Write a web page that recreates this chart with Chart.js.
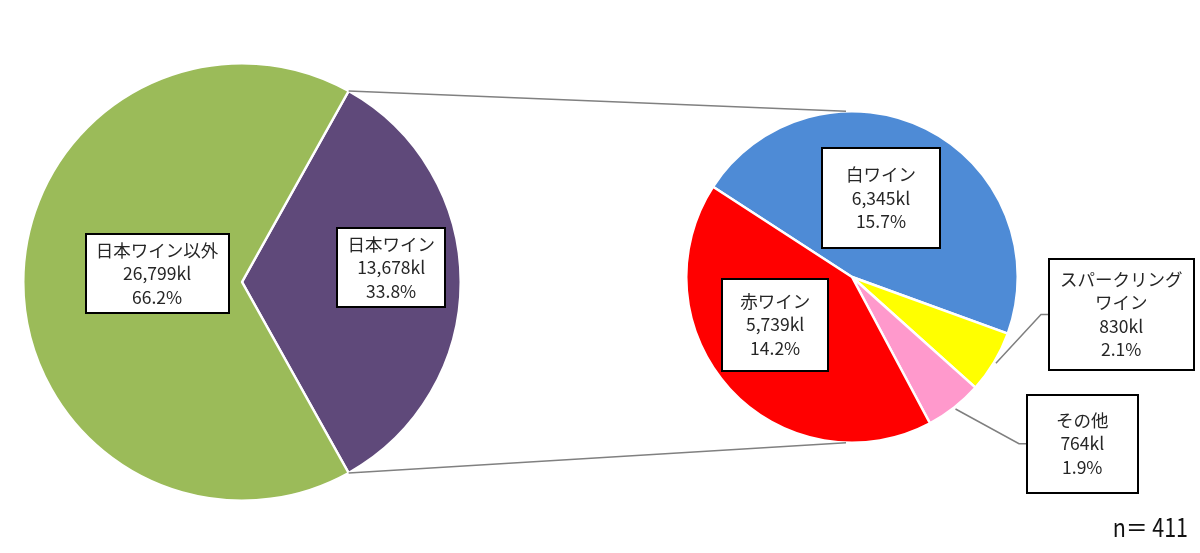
<!DOCTYPE html>
<html lang="ja">
<head>
<meta charset="utf-8">
<script src="https://cdn.jsdelivr.net/npm/chart.js@4.4.1/dist/chart.umd.min.js"></script>
<style>
  html, body { margin: 0; padding: 0; background: #fff; }
  #wrap { position: relative; width: 1200px; height: 553px; }
  #wrap canvas { position: absolute; left: 0; top: 0; }
</style>
</head>
<body>
<div id="wrap">
  <canvas id="chart-total" width="1200" height="553"></canvas>
  <canvas id="chart-detail" width="1200" height="553"></canvas>
</div>
<script>
  // 全体 (kl)
  const totalLabels = ['日本ワイン', '日本ワイン以外'];
  const totalValues = [13678, 26799];
  const totalColors = ['#5F497A', '#9BBB59'];

  // 日本ワインの内訳 (kl)
  const detailLabels = [['白ワイン'], ['スパークリング', 'ワイン'], ['その他'], ['赤ワイン']];
  const detailValues = [6345, 830, 764, 5739];
  const detailColors = ['#4E8BD6', '#FFFF00', '#FF99CC', '#FF0000'];

  const sampleText = 'n＝ 411';

  // ラベル枠の置き場所: 半径比, 中心角からのずれ(度), 枠の幅・高さ
  const totalLabelPos = [
    { dist: 0.685, shift: -5.5, w: 108, h: 79 },
    { dist: 0.39, shift: 5.7, w: 143, h: 79 }
  ];
  const detailLabelPos = [
    { dist: 0.506, shift: -6.3, w: 118, h: 100 },
    { dist: 1.64, shift: -23, w: 145, h: 111, leader: true },
    { dist: 1.715, shift: -16, w: 111, h: 98, leader: true },
    { dist: 0.545, shift: 10.8, w: 106, h: 92 }
  ];

  const grandTotal = totalValues.reduce((s, v) => s + v, 0);
  const fmt = v => v.toLocaleString('en-US') + 'kl';
  const pct = v => (v / grandTotal * 100).toFixed(1) + '%';

  const FONT = '"Noto Sans CJK JP", "Noto Sans", sans-serif';

  /*
    ==================================================
    =================== ラベル描画 ===================
    ==================================================
  */

  function drawBox(ctx, cx, cy, w, h, lines) {
    let left = Math.round(cx - w / 2), top = Math.round(cy - h / 2);
    ctx.fillStyle = '#fff';
    ctx.fillRect(left, top, w, h);
    ctx.strokeStyle = '#000';
    ctx.lineWidth = 2;
    ctx.strokeRect(left, top, w, h);

    ctx.fillStyle = '#262626';
    ctx.font = '17.5px ' + FONT;
    ctx.textAlign = 'center';
    ctx.textBaseline = 'middle';
    let lh = 23.5;
    lines.forEach((t, i) => ctx.fillText(t, cx, cy + (i - (lines.length - 1) / 2) * lh));
  }

  function drawLabels(ctx, meta, pos, textOf) {
    meta.data.forEach((arc, i) => {
      let { x, y, startAngle, endAngle, outerRadius } = arc.getProps(['x', 'y', 'startAngle', 'endAngle', 'outerRadius']);
      let p = pos[i];
      let mid = (startAngle + endAngle) / 2;
      let ang = mid + p.shift * Math.PI / 180;
      let cx = x + p.dist * outerRadius * Math.cos(ang);
      let cy = y + p.dist * outerRadius * Math.sin(ang);

      if (p.leader) {
        let boxLeft = Math.round(cx - p.w / 2);
        ctx.save();
        ctx.strokeStyle = '#7F7F7F';
        ctx.lineWidth = 1.5;
        ctx.beginPath();
        ctx.moveTo(x + (outerRadius + 2) * Math.cos(mid), y + (outerRadius + 2) * Math.sin(mid));
        ctx.lineTo(boxLeft - 8, cy);
        ctx.lineTo(boxLeft, cy);
        ctx.stroke();
        ctx.restore();
      }
      drawBox(ctx, cx, cy, p.w, p.h, textOf(i));
    });
  }

  /*
    ==================================================
    ================== 左: 全体の円 ==================
    ==================================================
  */

  let totalShare = totalValues[0] / grandTotal;

  let chartTotal = new Chart(document.getElementById('chart-total').getContext('2d'), {
    type: 'pie',
    data: {
      labels: totalLabels,
      datasets: [{
        data: totalValues,
        backgroundColor: totalColors,
        borderColor: '#fff',
        borderWidth: 2.5
      }]
    },
    options: {
      responsive: false,
      animation: false,
      devicePixelRatio: 1,
      rotation: 90 - 180 * totalShare,
      layout: { padding: { left: 22, top: 62, right: 738, bottom: 51 } },
      plugins: { legend: { display: false }, tooltip: { enabled: false } }
    }
  });

  /*
    ==================================================
    ================= 右: 内訳の円 ==================
    ==================================================
  */

  const overlayPlugin = {
    id: 'overlay',
    afterDraw(chart) {
      let ctx = chart.ctx;
      let a = chartTotal.getDatasetMeta(0).data[0].getProps(['x', 'y', 'startAngle', 'endAngle', 'outerRadius']);
      let b = chart.getDatasetMeta(0).data[0].getProps(['x', 'y', 'outerRadius']);

      // 二つの円をつなぐ線
      ctx.save();
      ctx.strokeStyle = '#808080';
      ctx.lineWidth = 1.5;
      ctx.beginPath();
      ctx.moveTo(a.x + a.outerRadius * Math.cos(a.startAngle), a.y + a.outerRadius * Math.sin(a.startAngle));
      ctx.lineTo(b.x - 6, b.y - b.outerRadius);
      ctx.moveTo(a.x + a.outerRadius * Math.cos(a.endAngle), a.y + a.outerRadius * Math.sin(a.endAngle));
      ctx.lineTo(b.x - 6, b.y + b.outerRadius);
      ctx.stroke();
      ctx.restore();

      drawLabels(ctx, chartTotal.getDatasetMeta(0), totalLabelPos,
        i => [totalLabels[i], fmt(totalValues[i]), pct(totalValues[i])]);
      drawLabels(ctx, chart.getDatasetMeta(0), detailLabelPos,
        i => [...detailLabels[i], fmt(detailValues[i]), pct(detailValues[i])]);

      // n数 (縦長の字形に寄せる)
      ctx.save();
      ctx.fillStyle = '#111';
      ctx.font = '25px ' + FONT;
      ctx.textAlign = 'right';
      ctx.textBaseline = 'alphabetic';
      ctx.translate(1188, 537);
      ctx.scale(0.86, 1);
      ctx.fillText(sampleText, 0, 0);
      ctx.restore();
    }
  };

  let chartDetail = new Chart(document.getElementById('chart-detail').getContext('2d'), {
    type: 'pie',
    data: {
      labels: detailLabels.map(l => l.join('')),
      datasets: [{
        data: detailValues,
        backgroundColor: detailColors,
        borderColor: '#fff',
        borderWidth: 2.5
      }]
    },
    options: {
      responsive: false,
      animation: false,
      devicePixelRatio: 1,
      rotation: -57,
      layout: { padding: { left: 685, top: 110, right: 181, bottom: 109 } },
      plugins: { legend: { display: false }, tooltip: { enabled: false } }
    },
    plugins: [overlayPlugin]
  });
</script>
</body>
</html>
